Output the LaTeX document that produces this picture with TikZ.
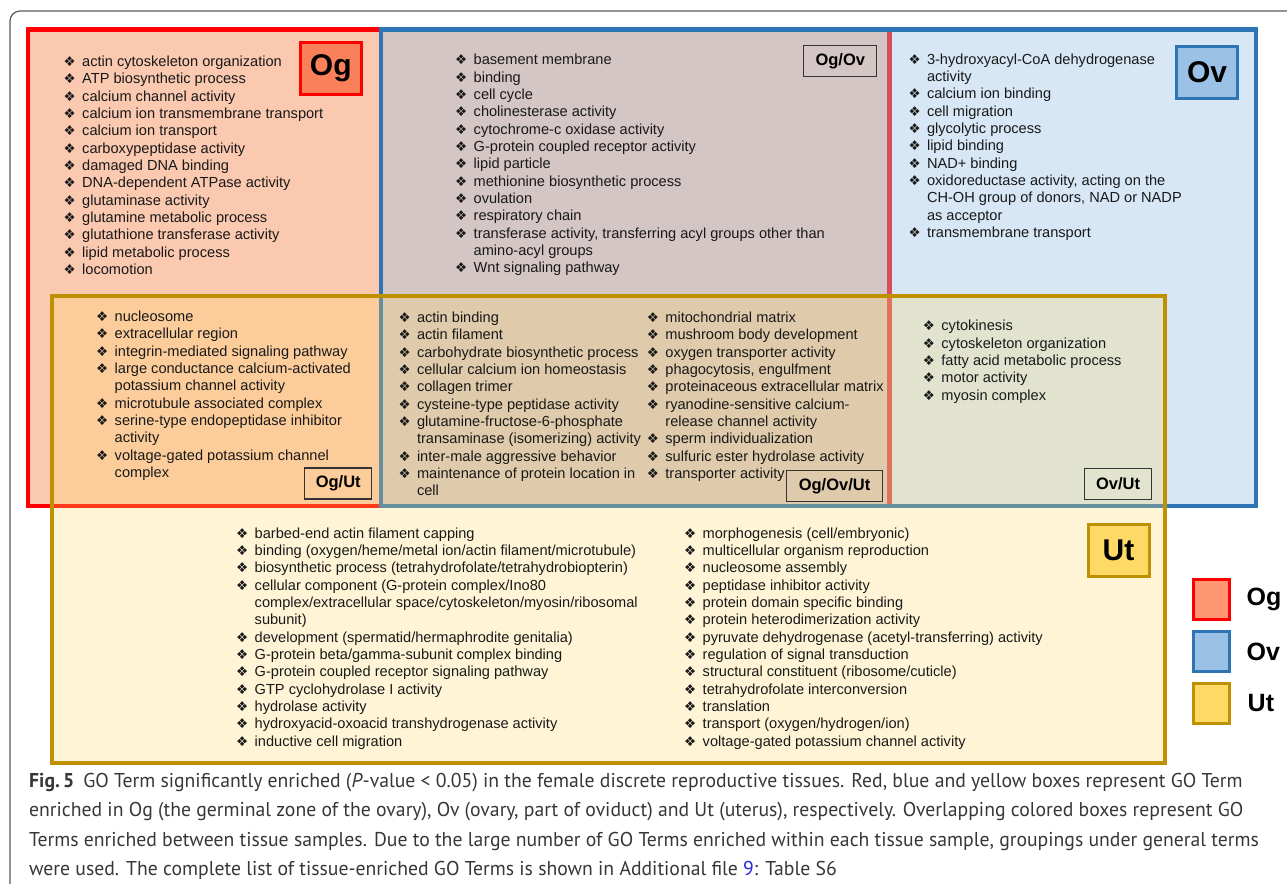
\documentclass[tikz,border=0pt]{standalone}
\usepackage{fontspec}
\usepackage{xcolor}
\usepackage{tikz}
\usetikzlibrary{positioning}
\setmainfont{Liberation Sans}
\newfontfamily\symfont{DejaVu Sans}
\newfontfamily\capfont[FakeStretch=0.985]{PT Sans}
\definecolor{ogcolor}{RGB}{255,0,0}
\definecolor{ovcolor}{RGB}{46,117,182}
\definecolor{utcolor}{RGB}{191,144,0}
\definecolor{ogfill}{RGB}{251,201,176}
\definecolor{ovfill}{RGB}{155,194,230}
\definecolor{utfill}{RGB}{255,217,102}
\definecolor{oglabfill}{RGB}{250,128,90}
\definecolor{oglegfill}{RGB}{255,150,115}
\definecolor{textcol}{RGB}{25,25,25}
\definecolor{capcol}{RGB}{55,55,55}
\definecolor{framecol}{RGB}{90,90,90}
\definecolor{linkblue}{RGB}{40,40,225}
\newcommand{\bul}{{\symfont\fontsize{13.5}{13.5}\selectfont ❖}}
\newcommand{\gi}{\makebox[18.5pt][l]{\bul}}
\newcommand{\gc}{\hspace*{18.5pt}}

\begin{document}
\begin{tikzpicture}[
    x=1pt, y=-1pt,
    region/.style={line width=4.5pt},
    tisslab/.style={draw, line width=3pt, minimum width=61pt, minimum height=52pt, inner sep=0pt, font=\fontsize{30}{30}\selectfont\bfseries},
    pairlab/.style={draw=black!80, line width=1.2pt, minimum height=31pt, inner sep=0pt, font=\fontsize{16.5}{16.5}\selectfont\bfseries},
    golist/.style={anchor=north west, inner sep=0pt, align=left, text=textcol, font=\fontsize{14.6}{17.33}\selectfont},
    legsq/.style={draw, line width=3pt, minimum width=36pt, minimum height=40pt, inner sep=0pt},
    legtxt/.style={inner sep=0pt, font=\fontsize{25}{25}\selectfont\bfseries},
]
    \useasboundingbox (0,0) rectangle (1287,883);

    % Outer frame
    \draw[framecol, line width=1.2pt, rounded corners=10pt] (1300,11) -- (10,11) -- (10,900);

    % Og region
    \fill[ogfill] (28,29.5) rectangle (889.5,506);
    \draw[region, ogcolor] (28,29.5) rectangle (889.5,506);
    % Ov region
    \fill[ovfill, fill opacity=0.4] (381,29.5) rectangle (1256,506);
    \draw[region, ovcolor] (381,29.5) rectangle (1256,506);
    % Ut region
    \fill[utfill, fill opacity=0.27] (52,296) rectangle (1165,763);
    \draw[region, utcolor] (52,296) rectangle (1165,763);

    % Tissue labels
    \node[tisslab, draw=ogcolor, fill=oglabfill] (oglab) at (330.8,68.4) {Og};
    \node[tisslab, draw=ovcolor, fill=ovfill] (ovlab) at (1207,72.5) {Ov};
    \node[tisslab, draw=utcolor, fill=utfill] (utlab) at (1118.5,550.5) {Ut};

    % Overlap labels
    \node[pairlab, minimum width=73pt] (ogovlab) at (840.3,61.2) {Og/Ov};
    \node[pairlab, minimum width=67pt] (ogutlab) at (338.2,483.5) {Og/Ut};
    \node[pairlab, minimum width=96pt] (ogovutlab) at (834.5,486.3) {Og/Ov/Ut};
    \node[pairlab, minimum width=67pt] (ovutlab) at (1118,483.8) {Ov/Ut};

    % Og terms
    \node[golist] (oglist) at (63.5,55.7) {%
    \gi actin cytoskeleton organization\\
    \gi ATP biosynthetic process\\
    \gi calcium channel activity\\
    \gi calcium ion transmembrane transport\\
    \gi calcium ion transport\\
    \gi carboxypeptidase activity\\
    \gi damaged DNA binding\\
    \gi DNA-dependent ATPase activity\\
    \gi glutaminase activity\\
    \gi glutamine metabolic process\\
    \gi glutathione transferase activity\\
    \gi lipid metabolic process\\
    \gi locomotion};

    % Og/Ov terms
    \node[golist] (ogovlist) at (455,54) {%
    \gi basement membrane\\
    \gi binding\\
    \gi cell cycle\\
    \gi cholinesterase activity\\
    \gi cytochrome-c oxidase activity\\
    \gi G-protein coupled receptor activity\\
    \gi lipid particle\\
    \gi methionine biosynthetic process\\
    \gi ovulation\\
    \gi respiratory chain\\
    \gi transferase activity, transferring acyl groups other than\\
    \gc amino-acyl groups\\
    \gi Wnt signaling pathway};

    % Ov terms
    \node[golist] (ovlist) at (908.3,53.3) {%
    \gi 3-hydroxyacyl-CoA dehydrogenase\\
    \gc activity\\
    \gi calcium ion binding\\
    \gi cell migration\\
    \gi glycolytic process\\
    \gi lipid binding\\
    \gi NAD+ binding\\
    \gi oxidoreductase activity, acting on the\\
    \gc CH-OH group of donors, NAD or NADP\\
    \gc as acceptor\\
    \gi transmembrane transport};

    % Og/Ut terms
    \node[golist] (ogutlist) at (96,310.7) {%
    \gi nucleosome\\
    \gi extracellular region\\
    \gi integrin-mediated signaling pathway\\
    \gi large conductance calcium-activated\\
    \gc potassium channel activity\\
    \gi microtubule associated complex\\
    \gi serine-type endopeptidase inhibitor\\
    \gc activity\\
    \gi voltage-gated potassium channel\\
    \gc complex};

    % Og/Ov/Ut terms
    \node[golist] (ogovutlista) at (398.3,311.7) {%
    \gi actin binding\\
    \gi actin filament\\
    \gi carbohydrate biosynthetic process\\
    \gi cellular calcium ion homeostasis\\
    \gi collagen trimer\\
    \gi cysteine-type peptidase activity\\
    \gi glutamine-fructose-6-phosphate\\
    \gc transaminase (isomerizing) activity\\
    \gi inter-male aggressive behavior\\
    \gi maintenance of protein location in\\
    \gc cell};
    \node[golist] (ogovutlistb) at (646.7,311.7) {%
    \gi mitochondrial matrix\\
    \gi mushroom body development\\
    \gi oxygen transporter activity\\
    \gi phagocytosis, engulfment\\
    \gi proteinaceous extracellular matrix\\
    \gi ryanodine-sensitive calcium-\\
    \gc release channel activity\\
    \gi sperm individualization\\
    \gi sulfuric ester hydrolase activity\\
    \gi transporter activity};

    % Ov/Ut terms
    \node[golist] (ovutlist) at (922.7,320) {%
    \gi cytokinesis\\
    \gi cytoskeleton organization\\
    \gi fatty acid metabolic process\\
    \gi motor activity\\
    \gi myosin complex};

    % Ut terms
    \node[golist] (utlista) at (236,527.3) {%
    \gi barbed-end actin filament capping\\
    \gi binding (oxygen/heme/metal ion/actin filament/microtubule)\\
    \gi biosynthetic process (tetrahydrofolate/tetrahydrobiopterin)\\
    \gi cellular component (G-protein complex/Ino80\\
    \gc complex/extracellular space/cytoskeleton/myosin/ribosomal\\
    \gc subunit)\\
    \gi development (spermatid/hermaphrodite genitalia)\\
    \gi G-protein beta/gamma-subunit complex binding\\
    \gi G-protein coupled receptor signaling pathway\\
    \gi GTP cyclohydrolase I activity\\
    \gi hydrolase activity\\
    \gi hydroxyacid-oxoacid transhydrogenase activity\\
    \gi inductive cell migration};
    \node[golist] (utlistb) at (684,527.3) {%
    \gi morphogenesis (cell/embryonic)\\
    \gi multicellular organism reproduction\\
    \gi nucleosome assembly\\
    \gi peptidase inhibitor activity\\
    \gi protein domain specific binding\\
    \gi protein heterodimerization activity\\
    \gi pyruvate dehydrogenase (acetyl-transferring) activity\\
    \gi regulation of signal transduction\\
    \gi structural constituent (ribosome/cuticle)\\
    \gi tetrahydrofolate interconversion\\
    \gi translation\\
    \gi transport (oxygen/hydrogen/ion)\\
    \gi voltage-gated potassium channel activity};

    % Legend
    \node[legsq, draw=ogcolor, fill=oglegfill] (legog) at (1211,599.5) {};
    \node[legsq, draw=ovcolor, fill=ovfill, below=9pt of legog] (legov) {};
    \node[legsq, draw=utcolor, fill=utfill, below=9pt of legov] (legut) {};
    \node[legtxt, right=16pt of legog] (legogtxt) {Og};
    \node[legtxt, right=16pt of legov] (legovtxt) {Ov};
    \node[legtxt, right=17pt of legut] (leguttxt) {Ut};

    % Caption
    \node[anchor=north west, inner sep=0pt, align=left, text=capcol, font=\capfont\fontsize{20}{29.5}\selectfont] (caption) at (29,773) {%
    \textbf{Fig.\,5}\hspace{9pt}GO Term significantly enriched (\textit{P}-value < 0.05) in the female discrete reproductive tissues. Red, blue and yellow boxes represent GO Term\\
    enriched in Og (the germinal zone of the ovary), Ov (ovary, part of oviduct) and Ut (uterus), respectively. Overlapping colored boxes represent GO\\
    Terms enriched between tissue samples. Due to the large number of GO Terms enriched within each tissue sample, groupings under general terms\\
    were used. The complete list of tissue-enriched GO Terms is shown in Additional file \textcolor{linkblue}{9}: Table S6};
\end{tikzpicture}
\end{document}
